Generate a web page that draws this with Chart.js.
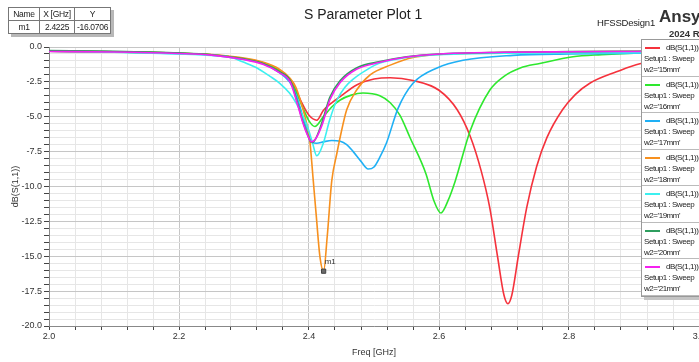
<!DOCTYPE html>
<html>
<head>
<meta charset="utf-8">
<script src="https://cdn.jsdelivr.net/npm/chart.js@4.4.1/dist/chart.umd.min.js"></script>
<style>
  html, body { margin: 0; padding: 0; background: #fff; overflow: hidden; }
  #wrap { position: relative; width: 699px; height: 362px; overflow: hidden; font-family: 'Liberation Sans', Arial, sans-serif; color: #222; }
  #chart { position: absolute; left: 0; top: 0; }
  .t { position: absolute; white-space: nowrap; }
  #title { left: 304px; top: 6px; font-size: 14px; }
  #design { left: 597px; top: 17px; font-size: 9.5px; letter-spacing: -0.2px; }
  #ansys { left: 659px; top: 7px; font-size: 17px; font-weight: bold; color: #333; }
  #rel { left: 669px; top: 28px; font-size: 9.5px; font-weight: bold; color: #333; }
  #mtab { position: absolute; left: 8px; top: 7px; border-collapse: collapse; background: #fff; font-size: 8.5px; letter-spacing: -0.3px; box-shadow: 3px 3px 0 #b8b8b8; }
  #mtab td { border: 1px solid #777; padding: 0; height: 12px; text-align: center; }
  #legend { position: absolute; left: 641px; top: 39px; width: 70px; background: #fff; border: 1px solid #999; box-shadow: 3px 3px 0 #c4c4c4; font-size: 8px; letter-spacing: -0.45px; }
  .entry { position: relative; height: 35.5px; border-bottom: 1px solid #bbb; }
  .entry .ln { position: absolute; left: 3px; top: 7px; width: 15px; height: 2px; }
  .entry .a { position: absolute; left: 24px; top: 3px; }
  .entry .b { position: absolute; left: 2px; top: 14px; }
  .entry .c { position: absolute; left: 2px; top: 25px; }
</style>
</head>
<body>
<div id="wrap">
  <canvas id="chart" width="720" height="362"></canvas>
  <div class="t" id="title">S Parameter Plot 1</div>
  <div class="t" id="design">HFSSDesign1</div>
  <div class="t" id="ansys">Ansys</div>
  <div class="t" id="rel">2024 R2</div>
  <table id="mtab">
    <tr><td style="width:30px">Name</td><td style="width:34px">X [GHz]</td><td style="width:35px">Y</td></tr>
    <tr><td>m1</td><td>2.4225</td><td>-16.0706</td></tr>
  </table>
  <div id="legend"></div>
</div>
<script>
// S11 sweeps over w2 (freq in GHz, dB)
const f15 = [2.0, 2.1, 2.2, 2.25, 2.3, 2.33, 2.355, 2.37, 2.38, 2.39, 2.40, 2.412, 2.422, 2.435, 2.448, 2.474, 2.50, 2.525, 2.56, 2.6, 2.628, 2.648, 2.665, 2.678, 2.69, 2.70, 2.706, 2.712, 2.722, 2.735, 2.75, 2.766, 2.79, 2.81, 2.832, 2.873, 2.909, 2.95, 3.0];
const s15 = [-0.3, -0.35, -0.45, -0.55, -0.85, -1.15, -1.7, -2.3, -3.1, -4.1, -4.9, -5.25, -4.55, -4.0, -3.55, -2.7, -2.3, -2.2, -2.4, -3.1, -4.5, -6.4, -8.9, -11.5, -15.0, -17.8, -18.4, -17.8, -15.0, -11.5, -8.6, -6.5, -4.5, -3.4, -2.6, -1.78, -1.2, -1.0, -0.85];

const f16 = [2.0, 2.1, 2.2, 2.25, 2.3, 2.33, 2.355, 2.37, 2.38, 2.39, 2.40, 2.409, 2.422, 2.435, 2.448, 2.465, 2.483, 2.509, 2.525, 2.54, 2.555, 2.58, 2.592, 2.603, 2.614, 2.625, 2.648, 2.678, 2.70, 2.725, 2.755, 2.806, 2.85, 2.909, 3.0];
const s16 = [-0.3, -0.35, -0.45, -0.55, -0.85, -1.15, -1.75, -2.4, -3.2, -4.3, -5.3, -5.7, -5.0, -4.3, -3.8, -3.45, -3.3, -3.5, -4.0, -4.9, -6.45, -9.1, -11.0, -11.9, -11.0, -9.6, -6.0, -3.1, -2.1, -1.5, -1.18, -0.7, -0.55, -0.42, -0.35];

const f17 = [2.0, 2.1, 2.2, 2.25, 2.3, 2.33, 2.355, 2.37, 2.38, 2.39, 2.398, 2.404, 2.412, 2.422, 2.435, 2.448, 2.458, 2.468, 2.48, 2.491, 2.50, 2.509, 2.519, 2.537, 2.56, 2.597, 2.637, 2.714, 2.8, 2.9, 3.0];
const s17 = [-0.3, -0.35, -0.48, -0.58, -0.9, -1.2, -1.85, -2.5, -3.4, -4.9, -6.1, -6.8, -6.9, -6.8, -6.7, -6.75, -7.0, -7.5, -8.2, -8.75, -8.6, -7.9, -6.9, -4.4, -2.6, -1.5, -0.95, -0.6, -0.5, -0.45, -0.42];

const f18 = [2.0, 2.1, 2.2, 2.25, 2.3, 2.33, 2.355, 2.37, 2.38, 2.391, 2.397, 2.401, 2.4066, 2.411, 2.417, 2.4225, 2.428, 2.435, 2.443, 2.448, 2.458, 2.473, 2.494, 2.525, 2.56, 2.65, 2.8, 3.0];
const s18 = [-0.3, -0.35, -0.45, -0.55, -0.8, -1.1, -1.6, -2.2, -2.9, -4.5, -5.6, -6.6, -9.6, -12.0, -15.1, -16.07, -13.6, -9.6, -7.6, -6.45, -4.5, -3.1, -2.0, -1.3, -0.75, -0.45, -0.35, -0.3];

const f19 = [2.0, 2.1, 2.2, 2.25, 2.278, 2.3, 2.32, 2.34, 2.355, 2.37, 2.38, 2.39, 2.398, 2.405, 2.412, 2.422, 2.432, 2.443, 2.455, 2.468, 2.49, 2.509, 2.55, 2.6, 2.7, 2.8, 3.0];
const s19 = [-0.3, -0.37, -0.5, -0.6, -0.72, -1.1, -1.5, -2.1, -2.6, -3.3, -4.0, -4.9, -5.75, -6.8, -7.8, -6.9, -5.2, -3.8, -2.9, -2.3, -1.6, -1.15, -0.75, -0.55, -0.45, -0.42, -0.4];

const f20 = [2.0, 2.1, 2.2, 2.25, 2.3, 2.33, 2.355, 2.371, 2.381, 2.391, 2.398, 2.404, 2.41, 2.42, 2.432, 2.448, 2.473, 2.509, 2.55, 2.6, 2.7, 2.8, 2.9, 3.0];
const s20 = [-0.25, -0.3, -0.42, -0.55, -0.85, -1.2, -1.8, -2.4, -3.8, -5.4, -6.3, -6.85, -6.6, -5.4, -3.6, -2.4, -1.5, -1.05, -0.7, -0.5, -0.38, -0.33, -0.3, -0.28];

const f21 = [2.0, 2.1, 2.2, 2.25, 2.3, 2.33, 2.355, 2.371, 2.381, 2.391, 2.398, 2.404, 2.41, 2.42, 2.432, 2.448, 2.473, 2.509, 2.55, 2.6, 2.7, 2.8, 2.9, 3.0];
const s21 = [-0.32, -0.36, -0.47, -0.58, -0.9, -1.25, -1.85, -2.5, -3.9, -5.5, -6.35, -6.8, -6.6, -5.6, -3.8, -2.55, -1.6, -1.1, -0.72, -0.5, -0.38, -0.34, -0.32, -0.3];

const sweepLabels = ["w2='15mm'", "w2='16mm'", "w2='17mm'", "w2='18mm'", "w2='19mm'", "w2='20mm'", "w2='21mm'"];
const freqs = [f15, f16, f17, f18, f19, f20, f21];
const s11 = [s15, s16, s17, s18, s19, s20, s21];
const markerX = [2.4225];
const markerY = [-16.0706];

const colors = ['#f5323c', '#2ee82e', '#1fb0f5', '#f7901e', '#3cf0f0', '#2f9e5f', '#f520f0'];

Chart.defaults.font.family = "'Liberation Sans', Arial, sans-serif";
Chart.defaults.font.size = 9;
Chart.defaults.color = '#333';

const isMajor = (v, step) => Math.abs(v / step - Math.round(v / step)) < 1e-6;

const datasets = s11.map((ys, i) => ({
  label: sweepLabels[i],
  data: ys.map((y, j) => ({ x: freqs[i][j], y })),
  borderColor: colors[i],
  borderWidth: 1.6,
  pointRadius: 0,
  cubicInterpolationMode: 'monotone',
  order: 6 - i
}));
datasets.push({
  label: 'm1',
  data: markerX.map((x, j) => ({ x, y: markerY[j] })),
  showLine: false,
  pointStyle: 'rect',
  pointRadius: 3,
  backgroundColor: '#6a6a6a',
  borderColor: '#444',
  borderWidth: 1,
  order: -1
});

const markerLabel = {
  id: 'markerLabel',
  afterDatasetsDraw(chart) {
    const pt = chart.getDatasetMeta(7).data[0];
    const ctx = chart.ctx;
    ctx.save();
    ctx.font = "8px 'Liberation Sans', Arial";
    ctx.fillStyle = '#333';
    ctx.fillText('m1', pt.x + 1, pt.y - 7);
    ctx.restore();
  }
};

new Chart(document.getElementById('chart'), {
  type: 'line',
  data: { datasets },
  plugins: [markerLabel],
  options: {
    responsive: false,
    animation: false,
    layout: { padding: { top: 47, right: 21, bottom: 0, left: 0 } },
    plugins: { legend: { display: false }, tooltip: { enabled: false } },
    scales: {
      x: {
        type: 'linear',
        min: 2.0,
        max: 3.0,
        afterFit: s => { s.height = 36; },
        ticks: {
          stepSize: 0.04,
          autoSkip: false,
          maxRotation: 0,
          padding: 1,
          callback: v => isMajor(v, 0.2) ? v.toFixed(1) : ''
        },
        grid: {
          color: c => isMajor(c.tick.value, 0.2) ? '#c6c6c6' : '#e6e6e6',
          tickColor: '#444',
          tickLength: 4
        },
        border: { color: '#888' },
        title: { display: true, text: 'Freq [GHz]', padding: { top: 0, bottom: 4 }, font: { size: 9 } }
      },
      y: {
        min: -20,
        max: 0,
        afterFit: s => { s.width = 49; },
        ticks: {
          stepSize: 0.5,
          autoSkip: false,
          padding: 2,
          callback: v => isMajor(v, 2.5) ? v.toFixed(1) : ''
        },
        grid: {
          color: c => isMajor(c.tick.value, 2.5) ? '#c6c6c6' : '#e6e6e6',
          tickColor: '#444',
          tickLength: 5
        },
        border: { color: '#888' },
        title: { display: true, text: 'dB(S(1,1))', padding: { top: 10, bottom: 0 }, font: { size: 9 } }
      }
    }
  }
});

const legend = document.getElementById('legend');
sweepLabels.forEach((lab, i) => {
  const e = document.createElement('div');
  e.className = 'entry';
  e.innerHTML = '<div class="ln" style="background:' + colors[i] + '"></div>' +
    '<div class="a">dB(S(1,1))</div><div class="b">Setup1 : Sweep</div><div class="c">' + lab + '</div>';
  legend.appendChild(e);
});
</script>
</body>
</html>
